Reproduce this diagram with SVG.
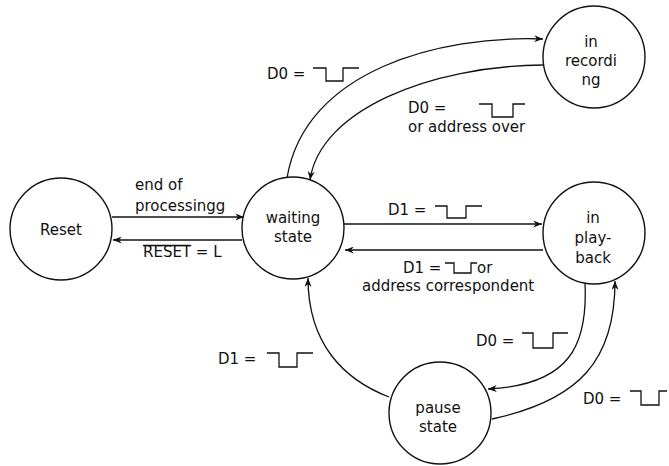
<svg xmlns="http://www.w3.org/2000/svg" width="669" height="466" viewBox="0 0 669 466">
<defs>
<style>
.node circle{fill:#fff;stroke:#111;stroke-width:1.4}
text{font-family:"DejaVu Sans","Liberation Sans",sans-serif;font-size:15px;fill:#111}
.node text{text-anchor:middle}
.edge{fill:none;stroke:#111;stroke-width:1.3}
.pulse{fill:none;stroke:#111;stroke-width:1.3}
</style>
<marker id="arr" viewBox="0 0 10 8" refX="10" refY="4" markerWidth="9" markerHeight="7" markerUnits="userSpaceOnUse" orient="auto">
<path d="M0,0 L10,4 L0,8 L3,4 z" fill="#111"/>
</marker>
</defs>
<rect width="669" height="466" fill="#fff"/>
<g id="connectors">
<path class="edge" d="M112,217 H244" marker-end="url(#arr)"/>
<path class="edge" d="M242,240 H113" marker-end="url(#arr)"/>
<path class="edge" d="M344,224 H542" marker-end="url(#arr)"/>
<path class="edge" d="M543,250 H345" marker-end="url(#arr)"/>
<path class="edge" d="M287,178 C305,70 440,35 543,39" marker-end="url(#arr)"/>
<path class="edge" d="M543,65 C430,66 320,110 310,180" marker-end="url(#arr)"/>
<path class="edge" d="M585,283 C588,345 570,385 488,389" marker-end="url(#arr)"/>
<path class="edge" d="M492,419 C580,400 615,360 615,281" marker-end="url(#arr)"/>
<path class="edge" d="M389,397 C345,380 308,345 308,278" marker-end="url(#arr)"/>
</g>
<g id="labels">
<text x="135" y="190">end of</text>
<text x="135" y="211">processingg</text>
<text x="143" y="257">RESET = L</text>
<path class="pulse" d="M143,245.5 H190"/>
<text x="267" y="79">D0 =</text>
<path class="pulse" d="M313,68 H326 V81 H343 V68 H359"/>
<text x="408" y="113">D0 =</text>
<path class="pulse" d="M479,104 H492 V117 H513 V104 H525"/>
<text x="408" y="132">or address over</text>
<text x="388" y="215">D1 =</text>
<path class="pulse" d="M435,206 H447 V218 H466 V206 H482"/>
<text x="403" y="273">D1 =</text>
<path class="pulse" d="M445,263 H454 V273 H471 V263 H477"/>
<text x="477" y="273">or</text>
<text x="362" y="291">address correspondent</text>
<text x="218" y="364">D1 =</text>
<path class="pulse" d="M267,353 H279 V367 H297 V353 H313"/>
<text x="476" y="346">D0 =</text>
<path class="pulse" d="M522,333 H533 V348 H553 V333 H568"/>
<text x="583" y="404">D0 =</text>
<path class="pulse" d="M630,391 H641 V405 H659 V391 H667"/>
</g>
<g id="reset" class="node">
<circle cx="61" cy="229" r="51"/>
<text x="61" y="235">Reset</text>
</g>
<g id="waiting" class="node">
<circle cx="293" cy="228" r="51"/>
<text x="293" y="223">waiting</text>
<text x="293" y="242">state</text>
</g>
<g id="recording" class="node">
<circle cx="594" cy="57" r="51"/>
<text x="591" y="47">in</text>
<text x="591" y="66">recordi</text>
<text x="591" y="85">ng</text>
</g>
<g id="playback" class="node">
<circle cx="594" cy="233" r="51"/>
<text x="593" y="223">in</text>
<text x="593" y="243">play-</text>
<text x="593" y="263">back</text>
</g>
<g id="pause" class="node">
<circle cx="440" cy="413" r="51"/>
<text x="438" y="413">pause</text>
<text x="438" y="432">state</text>
</g>
</svg>
